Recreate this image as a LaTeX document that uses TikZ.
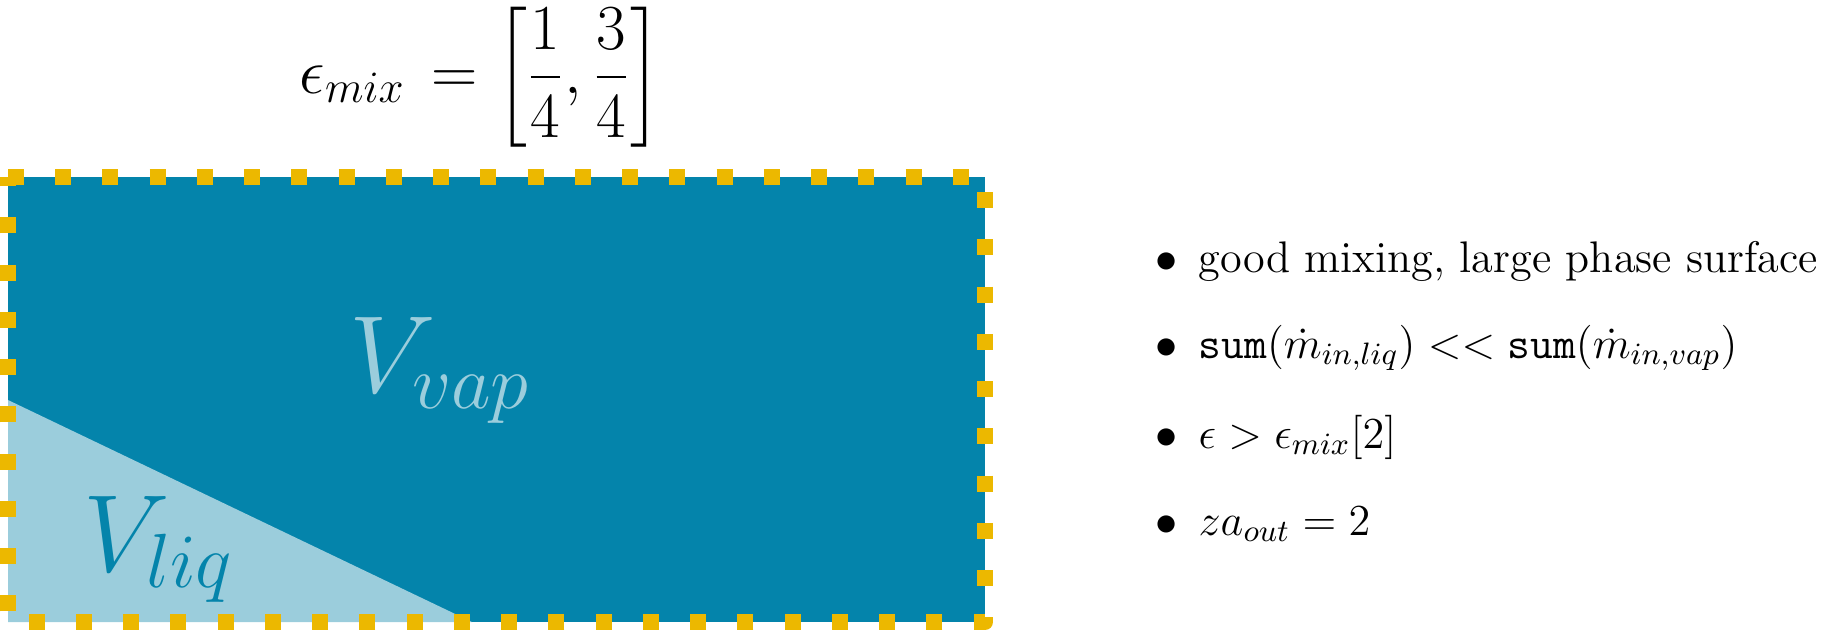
\RequirePackage{fix-cm}
\documentclass[tikz,border=0pt]{standalone}
\usepackage{amsmath}
\definecolor{vapblue}{RGB}{4,132,171}
\definecolor{liqblue}{RGB}{155,205,220}
\definecolor{wallyellow}{RGB}{236,184,0}
\tikzset{
  wall/.style={draw=wallyellow, line width=4.736pt, dash pattern=on 4.736pt off 9.25pt, line join=round},
  vlabel/.style={anchor=base west, inner sep=0pt, font=\fontsize{32.5}{39}\selectfont},
  itemtext/.style={anchor=base west, inner sep=0pt, font=\fontsize{13.1}{16}\selectfont},
  formula/.style={anchor=base west, inner sep=0pt, font=\fontsize{19}{23}\selectfont}
}
\begin{document}
\begin{tikzpicture}[x=0.296pt,y=-0.296pt]
\useasboundingbox (0,0) rectangle (1830,630);
\coordinate (tl) at (8,177);
\coordinate (tr) at (985,177);
\coordinate (br) at (985,622);
\coordinate (bl) at (8,622);
\coordinate (ls) at (8,400);
\coordinate (le) at (472,622);
\fill[vapblue] (tl) rectangle (br);
\fill[liqblue] (ls) -- (bl) -- (le) -- cycle;
\draw[wall] (tl) -- (tr) -- (br) -- (bl) -- (tl);
\node[vlabel, text=liqblue] (vap) at (349,392) {$V_{vap}$};
\node[vlabel, text=vapblue] (liq) at (83,571) {$V_{liq}$};
\node[formula] (eps) at (299,93) {$\epsilon_{mix}\mkern2.5mu = \left[\dfrac{1}{4}, \dfrac{3}{4}\right]$};
\node[itemtext] (b1) at (1155,272) {$\bullet$};
\node[itemtext] (t1) at (1198,272) {good mixing, large phase surface};
\node[itemtext] (b2) at (1155,358) {$\bullet$};
\node[itemtext] (t2) at (1198,358) {$\texttt{sum}(\dot{m}_{in,liq}) << \texttt{sum}(\dot{m}_{in,vap})$};
\node[itemtext] (b3) at (1155,448) {$\bullet$};
\node[itemtext] (t3) at (1198,448) {$\epsilon > \epsilon_{mix}[2]$};
\node[itemtext] (b4) at (1155,535) {$\bullet$};
\node[itemtext] (t4) at (1198,535) {$za_{out} = 2$};
\end{tikzpicture}
\end{document}
